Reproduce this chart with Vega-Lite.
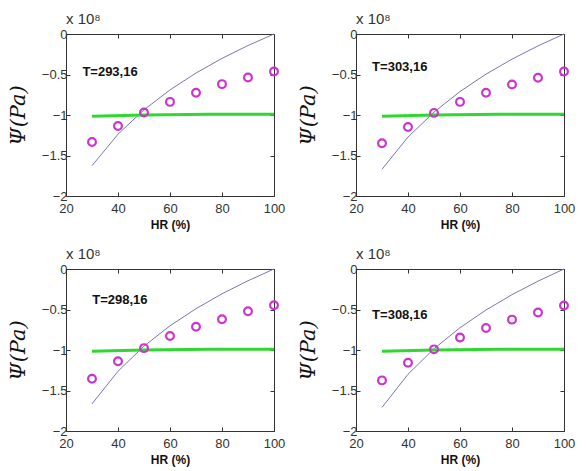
{
  "$schema": "https://vega.github.io/schema/vega-lite/v6.json",
  "background": "white",
  "padding": {"left": 6, "top": 11, "right": 5, "bottom": 5},
  "bounds": "flush",
  "columns": 2,
  "spacing": {"row": 73, "column": 82},
  "datasets": {
    "model": [
      {"T": "293,16", "HR": 30, "psi": -1.626}, {"T": "293,16", "HR": 40, "psi": -1.237}, {"T": "293,16", "HR": 50, "psi": -0.936}, {"T": "293,16", "HR": 60, "psi": -0.690}, {"T": "293,16", "HR": 70, "psi": -0.482}, {"T": "293,16", "HR": 80, "psi": -0.301}, {"T": "293,16", "HR": 90, "psi": -0.142}, {"T": "293,16", "HR": 100, "psi": 0},
      {"T": "298,16", "HR": 30, "psi": -1.665}, {"T": "298,16", "HR": 40, "psi": -1.262}, {"T": "298,16", "HR": 50, "psi": -0.952}, {"T": "298,16", "HR": 60, "psi": -0.701}, {"T": "298,16", "HR": 70, "psi": -0.490}, {"T": "298,16", "HR": 80, "psi": -0.306}, {"T": "298,16", "HR": 90, "psi": -0.145}, {"T": "298,16", "HR": 100, "psi": 0},
      {"T": "303,16", "HR": 30, "psi": -1.670}, {"T": "303,16", "HR": 40, "psi": -1.272}, {"T": "303,16", "HR": 50, "psi": -0.965}, {"T": "303,16", "HR": 60, "psi": -0.710}, {"T": "303,16", "HR": 70, "psi": -0.496}, {"T": "303,16", "HR": 80, "psi": -0.310}, {"T": "303,16", "HR": 90, "psi": -0.147}, {"T": "303,16", "HR": 100, "psi": 0},
      {"T": "308,16", "HR": 30, "psi": -1.709}, {"T": "308,16", "HR": 40, "psi": -1.300}, {"T": "308,16", "HR": 50, "psi": -0.984}, {"T": "308,16", "HR": 60, "psi": -0.725}, {"T": "308,16", "HR": 70, "psi": -0.506}, {"T": "308,16", "HR": 80, "psi": -0.317}, {"T": "308,16", "HR": 90, "psi": -0.150}, {"T": "308,16", "HR": 100, "psi": 0}
    ],
    "exp": [
      {"T": "293,16", "HR": 30, "psi": -1.333}, {"T": "293,16", "HR": 40, "psi": -1.135}, {"T": "293,16", "HR": 50, "psi": -0.970}, {"T": "293,16", "HR": 60, "psi": -0.838}, {"T": "293,16", "HR": 70, "psi": -0.726}, {"T": "293,16", "HR": 80, "psi": -0.619}, {"T": "293,16", "HR": 90, "psi": -0.537}, {"T": "293,16", "HR": 100, "psi": -0.463},
      {"T": "298,16", "HR": 30, "psi": -1.354}, {"T": "298,16", "HR": 40, "psi": -1.139}, {"T": "298,16", "HR": 50, "psi": -0.977}, {"T": "298,16", "HR": 60, "psi": -0.828}, {"T": "298,16", "HR": 70, "psi": -0.712}, {"T": "298,16", "HR": 80, "psi": -0.621}, {"T": "298,16", "HR": 90, "psi": -0.522}, {"T": "298,16", "HR": 100, "psi": -0.447},
      {"T": "303,16", "HR": 30, "psi": -1.349}, {"T": "303,16", "HR": 40, "psi": -1.147}, {"T": "303,16", "HR": 50, "psi": -0.974}, {"T": "303,16", "HR": 60, "psi": -0.838}, {"T": "303,16", "HR": 70, "psi": -0.726}, {"T": "303,16", "HR": 80, "psi": -0.623}, {"T": "303,16", "HR": 90, "psi": -0.541}, {"T": "303,16", "HR": 100, "psi": -0.463},
      {"T": "308,16", "HR": 30, "psi": -1.375}, {"T": "308,16", "HR": 40, "psi": -1.158}, {"T": "308,16", "HR": 50, "psi": -0.992}, {"T": "308,16", "HR": 60, "psi": -0.846}, {"T": "308,16", "HR": 70, "psi": -0.729}, {"T": "308,16", "HR": 80, "psi": -0.625}, {"T": "308,16", "HR": 90, "psi": -0.537}, {"T": "308,16", "HR": 100, "psi": -0.450}
    ],
    "green": [
      {"T": "293,16", "HR": 30, "psi": -1.015}, {"T": "293,16", "HR": 50, "psi": -1.0}, {"T": "293,16", "HR": 75, "psi": -0.992}, {"T": "293,16", "HR": 100, "psi": -0.99},
      {"T": "298,16", "HR": 30, "psi": -1.015}, {"T": "298,16", "HR": 50, "psi": -1.0}, {"T": "298,16", "HR": 75, "psi": -0.992}, {"T": "298,16", "HR": 100, "psi": -0.99},
      {"T": "303,16", "HR": 30, "psi": -1.015}, {"T": "303,16", "HR": 50, "psi": -1.0}, {"T": "303,16", "HR": 75, "psi": -0.992}, {"T": "303,16", "HR": 100, "psi": -0.99},
      {"T": "308,16", "HR": 30, "psi": -1.015}, {"T": "308,16", "HR": 50, "psi": -1.0}, {"T": "308,16", "HR": 75, "psi": -0.992}, {"T": "308,16", "HR": 100, "psi": -0.99}
    ],
    "labels": [
      {"T": "293,16", "HR": 26.3, "psi": -0.475, "text": "T=293,16"},
      {"T": "298,16", "HR": 30.1, "psi": -0.38, "text": "T=298,16"},
      {"T": "303,16", "HR": 26.2, "psi": -0.41, "text": "T=303,16"},
      {"T": "308,16", "HR": 26.2, "psi": -0.57, "text": "T=308,16"}
    ]
  },
  "config": {
    "view": {"stroke": "#333333", "strokeWidth": 1},
    "font": "Liberation Sans",
    "axis": {
      "grid": false,
      "domain": false,
      "tickColor": "#333333",
      "tickSize": -4,
      "labelFlush": false,
      "labelColor": "#333333",
      "labelFont": "Liberation Sans",
      "labelFontSize": 13,
      "titleColor": "#111111"
    },
    "title": {"font": "Liberation Sans", "fontSize": 15, "fontWeight": "normal", "color": "#333333", "anchor": "start", "frame": "group", "offset": 1}
  },
  "concat": [
    {
      "width": 208, "height": 162,
      "title": "x 10⁸",
      "resolve": {"axis": {"x": "independent", "y": "independent"}},
      "layer": [
        {"data": {"name": "model"}, "transform": [{"filter": "datum.T == '293,16'"}], "mark": {"type": "line", "color": "#7878b0", "strokeWidth": 1},
         "encoding": {
           "x": {"field": "HR", "type": "quantitative", "scale": {"domain": [20, 100], "nice": false}, "axis": {"values": [20, 40, 60, 80, 100], "title": "HR (%)", "titleFontSize": 12, "titleFontWeight": "bold", "titlePadding": 4, "labelPadding": 10}},
           "y": {"field": "psi", "type": "quantitative", "scale": {"domain": [-2, 0], "nice": false}, "axis": {"values": [-2, -1.5, -1, -0.5, 0], "format": ".1~f", "title": "Ψ(Pa)", "titleFont": "DejaVu Serif", "titleFontStyle": "italic", "titleFontWeight": "normal", "titleFontSize": 21, "titlePadding": 13, "labelPadding": 3}}
         }},
        {"data": {"name": "model"}, "transform": [{"filter": "datum.T == '293,16'"}], "mark": {"type": "rule", "opacity": 0}, "encoding": {
           "x": {"field": "HR", "type": "quantitative", "axis": {"orient": "top", "values": [20, 40, 60, 80, 100], "labels": false, "title": null}},
           "y": {"field": "psi", "type": "quantitative", "axis": {"orient": "right", "values": [-2, -1.5, -1, -0.5, 0], "labels": false, "title": null}}}},
        {"data": {"name": "green"}, "transform": [{"filter": "datum.T == '293,16'"}], "mark": {"type": "line", "color": "#2fd82f", "strokeWidth": 3}, "encoding": {"x": {"field": "HR", "type": "quantitative", "axis": null}, "y": {"field": "psi", "type": "quantitative", "axis": null}}},
        {"data": {"name": "exp"}, "transform": [{"filter": "datum.T == '293,16'"}], "mark": {"type": "point", "shape": "circle", "filled": false, "color": "#cc33cc", "strokeWidth": 2.2, "size": 60, "opacity": 1}, "encoding": {"x": {"field": "HR", "type": "quantitative", "axis": null}, "y": {"field": "psi", "type": "quantitative", "axis": null}}},
        {"data": {"name": "labels"}, "transform": [{"filter": "datum.T == '293,16'"}], "mark": {"type": "text", "align": "left", "baseline": "middle", "fontWeight": "bold", "fontSize": 13, "color": "#111111"}, "encoding": {"x": {"field": "HR", "type": "quantitative", "axis": null}, "y": {"field": "psi", "type": "quantitative", "axis": null}, "text": {"field": "text"}}}
      ]
    },
    {
      "width": 208, "height": 162,
      "title": "x 10⁸",
      "resolve": {"axis": {"x": "independent", "y": "independent"}},
      "layer": [
        {"data": {"name": "model"}, "transform": [{"filter": "datum.T == '303,16'"}], "mark": {"type": "line", "color": "#7878b0", "strokeWidth": 1},
         "encoding": {
           "x": {"field": "HR", "type": "quantitative", "scale": {"domain": [20, 100], "nice": false}, "axis": {"values": [20, 40, 60, 80, 100], "title": "HR (%)", "titleFontSize": 12, "titleFontWeight": "bold", "titlePadding": 4, "labelPadding": 10}},
           "y": {"field": "psi", "type": "quantitative", "scale": {"domain": [-2, 0], "nice": false}, "axis": {"values": [-2, -1.5, -1, -0.5, 0], "format": ".1~f", "title": "Ψ(Pa)", "titleFont": "DejaVu Serif", "titleFontStyle": "italic", "titleFontWeight": "normal", "titleFontSize": 21, "titlePadding": 13, "labelPadding": 3}}
         }},
        {"data": {"name": "model"}, "transform": [{"filter": "datum.T == '303,16'"}], "mark": {"type": "rule", "opacity": 0}, "encoding": {
           "x": {"field": "HR", "type": "quantitative", "axis": {"orient": "top", "values": [20, 40, 60, 80, 100], "labels": false, "title": null}},
           "y": {"field": "psi", "type": "quantitative", "axis": {"orient": "right", "values": [-2, -1.5, -1, -0.5, 0], "labels": false, "title": null}}}},
        {"data": {"name": "green"}, "transform": [{"filter": "datum.T == '303,16'"}], "mark": {"type": "line", "color": "#2fd82f", "strokeWidth": 3}, "encoding": {"x": {"field": "HR", "type": "quantitative", "axis": null}, "y": {"field": "psi", "type": "quantitative", "axis": null}}},
        {"data": {"name": "exp"}, "transform": [{"filter": "datum.T == '303,16'"}], "mark": {"type": "point", "shape": "circle", "filled": false, "color": "#cc33cc", "strokeWidth": 2.2, "size": 60, "opacity": 1}, "encoding": {"x": {"field": "HR", "type": "quantitative", "axis": null}, "y": {"field": "psi", "type": "quantitative", "axis": null}}},
        {"data": {"name": "labels"}, "transform": [{"filter": "datum.T == '303,16'"}], "mark": {"type": "text", "align": "left", "baseline": "middle", "fontWeight": "bold", "fontSize": 13, "color": "#111111"}, "encoding": {"x": {"field": "HR", "type": "quantitative", "axis": null}, "y": {"field": "psi", "type": "quantitative", "axis": null}, "text": {"field": "text"}}}
      ]
    },
    {
      "width": 208, "height": 162,
      "title": "x 10⁸",
      "resolve": {"axis": {"x": "independent", "y": "independent"}},
      "layer": [
        {"data": {"name": "model"}, "transform": [{"filter": "datum.T == '298,16'"}], "mark": {"type": "line", "color": "#7878b0", "strokeWidth": 1},
         "encoding": {
           "x": {"field": "HR", "type": "quantitative", "scale": {"domain": [20, 100], "nice": false}, "axis": {"values": [20, 40, 60, 80, 100], "title": "HR (%)", "titleFontSize": 12, "titleFontWeight": "bold", "titlePadding": 4, "labelPadding": 10}},
           "y": {"field": "psi", "type": "quantitative", "scale": {"domain": [-2, 0], "nice": false}, "axis": {"values": [-2, -1.5, -1, -0.5, 0], "format": ".1~f", "title": "Ψ(Pa)", "titleFont": "DejaVu Serif", "titleFontStyle": "italic", "titleFontWeight": "normal", "titleFontSize": 21, "titlePadding": 13, "labelPadding": 3}}
         }},
        {"data": {"name": "model"}, "transform": [{"filter": "datum.T == '298,16'"}], "mark": {"type": "rule", "opacity": 0}, "encoding": {
           "x": {"field": "HR", "type": "quantitative", "axis": {"orient": "top", "values": [20, 40, 60, 80, 100], "labels": false, "title": null}},
           "y": {"field": "psi", "type": "quantitative", "axis": {"orient": "right", "values": [-2, -1.5, -1, -0.5, 0], "labels": false, "title": null}}}},
        {"data": {"name": "green"}, "transform": [{"filter": "datum.T == '298,16'"}], "mark": {"type": "line", "color": "#2fd82f", "strokeWidth": 3}, "encoding": {"x": {"field": "HR", "type": "quantitative", "axis": null}, "y": {"field": "psi", "type": "quantitative", "axis": null}}},
        {"data": {"name": "exp"}, "transform": [{"filter": "datum.T == '298,16'"}], "mark": {"type": "point", "shape": "circle", "filled": false, "color": "#cc33cc", "strokeWidth": 2.2, "size": 60, "opacity": 1}, "encoding": {"x": {"field": "HR", "type": "quantitative", "axis": null}, "y": {"field": "psi", "type": "quantitative", "axis": null}}},
        {"data": {"name": "labels"}, "transform": [{"filter": "datum.T == '298,16'"}], "mark": {"type": "text", "align": "left", "baseline": "middle", "fontWeight": "bold", "fontSize": 13, "color": "#111111"}, "encoding": {"x": {"field": "HR", "type": "quantitative", "axis": null}, "y": {"field": "psi", "type": "quantitative", "axis": null}, "text": {"field": "text"}}}
      ]
    },
    {
      "width": 208, "height": 162,
      "title": "x 10⁸",
      "resolve": {"axis": {"x": "independent", "y": "independent"}},
      "layer": [
        {"data": {"name": "model"}, "transform": [{"filter": "datum.T == '308,16'"}], "mark": {"type": "line", "color": "#7878b0", "strokeWidth": 1},
         "encoding": {
           "x": {"field": "HR", "type": "quantitative", "scale": {"domain": [20, 100], "nice": false}, "axis": {"values": [20, 40, 60, 80, 100], "title": "HR (%)", "titleFontSize": 12, "titleFontWeight": "bold", "titlePadding": 4, "labelPadding": 10}},
           "y": {"field": "psi", "type": "quantitative", "scale": {"domain": [-2, 0], "nice": false}, "axis": {"values": [-2, -1.5, -1, -0.5, 0], "format": ".1~f", "title": "Ψ(Pa)", "titleFont": "DejaVu Serif", "titleFontStyle": "italic", "titleFontWeight": "normal", "titleFontSize": 21, "titlePadding": 13, "labelPadding": 3}}
         }},
        {"data": {"name": "model"}, "transform": [{"filter": "datum.T == '308,16'"}], "mark": {"type": "rule", "opacity": 0}, "encoding": {
           "x": {"field": "HR", "type": "quantitative", "axis": {"orient": "top", "values": [20, 40, 60, 80, 100], "labels": false, "title": null}},
           "y": {"field": "psi", "type": "quantitative", "axis": {"orient": "right", "values": [-2, -1.5, -1, -0.5, 0], "labels": false, "title": null}}}},
        {"data": {"name": "green"}, "transform": [{"filter": "datum.T == '308,16'"}], "mark": {"type": "line", "color": "#2fd82f", "strokeWidth": 3}, "encoding": {"x": {"field": "HR", "type": "quantitative", "axis": null}, "y": {"field": "psi", "type": "quantitative", "axis": null}}},
        {"data": {"name": "exp"}, "transform": [{"filter": "datum.T == '308,16'"}], "mark": {"type": "point", "shape": "circle", "filled": false, "color": "#cc33cc", "strokeWidth": 2.2, "size": 60, "opacity": 1}, "encoding": {"x": {"field": "HR", "type": "quantitative", "axis": null}, "y": {"field": "psi", "type": "quantitative", "axis": null}}},
        {"data": {"name": "labels"}, "transform": [{"filter": "datum.T == '308,16'"}], "mark": {"type": "text", "align": "left", "baseline": "middle", "fontWeight": "bold", "fontSize": 13, "color": "#111111"}, "encoding": {"x": {"field": "HR", "type": "quantitative", "axis": null}, "y": {"field": "psi", "type": "quantitative", "axis": null}, "text": {"field": "text"}}}
      ]
    }
  ]
}
